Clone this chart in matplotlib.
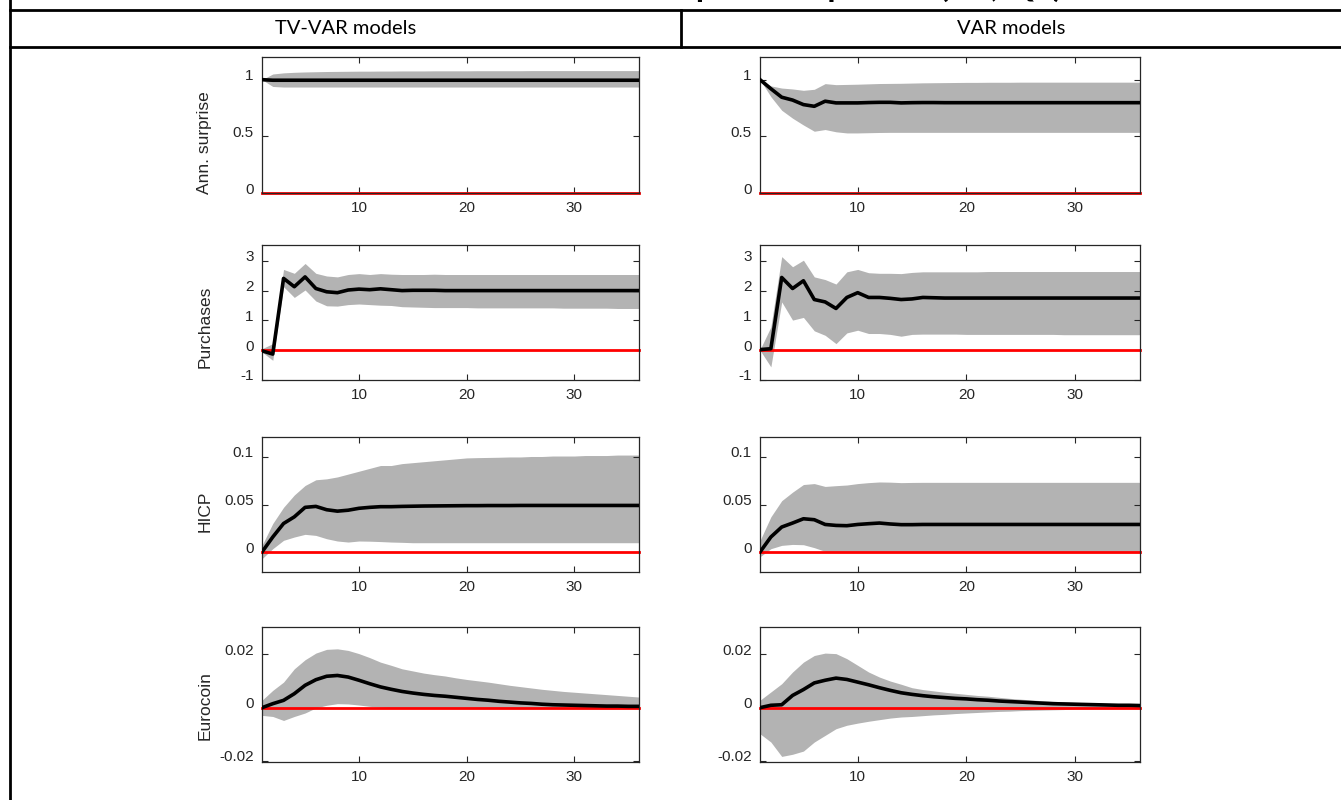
import matplotlib
matplotlib.use("Agg")
import matplotlib.pyplot as plt
import matplotlib.transforms as mtransforms
from matplotlib.lines import Line2D
import numpy as np

# ---------------- data ----------------
horizon = list(range(1, 37))

col_titles = ["TV-VAR models", "VAR models"]
var_names = ["Ann. surprise", "Purchases", "HICP", "Eurocoin"]

# Ann. surprise
tv_ann_med = [1.00, 0.995, 0.995, 0.995, 0.995, 0.995, 0.995, 0.995, 0.995, 0.995, 0.995, 0.995,
              0.995, 0.995, 0.995, 0.995, 0.995, 0.995, 0.995, 0.995, 0.995, 0.995, 0.995, 0.995,
              0.995, 0.995, 0.995, 0.995, 0.995, 0.995, 0.995, 0.995, 0.995, 0.995, 0.995, 0.995]
tv_ann_up = [1.00, 1.05, 1.06, 1.065, 1.068, 1.07, 1.072, 1.073, 1.074, 1.075, 1.075, 1.076,
             1.076, 1.077, 1.077, 1.077, 1.078, 1.078, 1.078, 1.078, 1.079, 1.079, 1.079, 1.079,
             1.079, 1.08, 1.08, 1.08, 1.08, 1.08, 1.08, 1.08, 1.08, 1.08, 1.08, 1.08]
tv_ann_lo = [1.00, 0.94, 0.935, 0.935, 0.935, 0.935, 0.935, 0.935, 0.935, 0.935, 0.935, 0.935,
             0.935, 0.935, 0.935, 0.935, 0.935, 0.935, 0.935, 0.935, 0.935, 0.935, 0.935, 0.935,
             0.935, 0.935, 0.935, 0.935, 0.935, 0.935, 0.935, 0.935, 0.935, 0.935, 0.935, 0.935]

var_ann_med = [1.00, 0.92, 0.845, 0.82, 0.78, 0.765, 0.81, 0.795, 0.795, 0.795, 0.798, 0.80,
               0.80, 0.795, 0.797, 0.798, 0.798, 0.797, 0.797, 0.797, 0.797, 0.797, 0.797, 0.797,
               0.797, 0.797, 0.797, 0.797, 0.797, 0.797, 0.797, 0.797, 0.797, 0.797, 0.797, 0.797]
var_ann_up = [1.00, 0.945, 0.926, 0.918, 0.906, 0.915, 0.965, 0.956, 0.958, 0.96, 0.963, 0.966,
              0.967, 0.968, 0.97, 0.972, 0.973, 0.974, 0.975, 0.976, 0.976, 0.977, 0.977, 0.977,
              0.978, 0.978, 0.978, 0.978, 0.978, 0.978, 0.978, 0.978, 0.978, 0.978, 0.978, 0.978]
var_ann_lo = [1.00, 0.85, 0.73, 0.66, 0.60, 0.545, 0.56, 0.54, 0.53, 0.53, 0.532, 0.534,
              0.535, 0.535, 0.535, 0.535, 0.535, 0.535, 0.535, 0.535, 0.535, 0.535, 0.535, 0.535,
              0.535, 0.535, 0.535, 0.535, 0.535, 0.535, 0.535, 0.535, 0.535, 0.535, 0.535, 0.535]

# Purchases
tv_pur_med = [-0.02, -0.13, 2.41, 2.13, 2.46, 2.07, 1.96, 1.93, 2.02, 2.05, 2.03, 2.06,
              2.03, 2.00, 2.01, 2.01, 2.01, 2.00, 2.00, 2.00, 2.00, 2.00, 2.00, 2.00,
              2.00, 2.00, 2.00, 2.00, 2.00, 2.00, 2.00, 2.00, 2.00, 2.00, 2.00, 2.00]
tv_pur_up = [0.05, 0.22, 2.71, 2.58, 2.91, 2.58, 2.49, 2.46, 2.54, 2.57, 2.54, 2.57,
             2.55, 2.54, 2.54, 2.54, 2.55, 2.54, 2.54, 2.54, 2.54, 2.54, 2.54, 2.54,
             2.54, 2.54, 2.54, 2.54, 2.54, 2.54, 2.54, 2.54, 2.54, 2.54, 2.54, 2.54]
tv_pur_lo = [-0.06, -0.34, 2.13, 1.77, 2.02, 1.65, 1.49, 1.48, 1.53, 1.55, 1.53, 1.51,
             1.50, 1.46, 1.45, 1.44, 1.43, 1.43, 1.43, 1.43, 1.42, 1.42, 1.42, 1.42,
             1.42, 1.42, 1.42, 1.42, 1.41, 1.41, 1.41, 1.41, 1.41, 1.40, 1.40, 1.40]

var_pur_med = [0.02, 0.05, 2.44, 2.07, 2.33, 1.70, 1.62, 1.40, 1.77, 1.93, 1.77, 1.77,
               1.74, 1.70, 1.72, 1.77, 1.76, 1.75, 1.75, 1.75, 1.75, 1.75, 1.75, 1.75,
               1.75, 1.75, 1.75, 1.75, 1.75, 1.75, 1.75, 1.75, 1.75, 1.75, 1.75, 1.75]
var_pur_up = [0.02, 0.78, 3.14, 2.80, 3.02, 2.46, 2.37, 2.22, 2.63, 2.71, 2.60, 2.58,
              2.58, 2.57, 2.61, 2.63, 2.63, 2.63, 2.63, 2.63, 2.63, 2.64, 2.64, 2.64,
              2.64, 2.64, 2.64, 2.64, 2.64, 2.64, 2.64, 2.64, 2.64, 2.64, 2.64, 2.64]
var_pur_lo = [0.00, -0.56, 1.62, 1.01, 1.10, 0.65, 0.50, 0.22, 0.58, 0.67, 0.56, 0.56,
              0.53, 0.47, 0.53, 0.54, 0.54, 0.54, 0.54, 0.53, 0.53, 0.53, 0.53, 0.53,
              0.53, 0.53, 0.53, 0.53, 0.52, 0.52, 0.52, 0.52, 0.52, 0.52, 0.52, 0.52]

# HICP
tv_hicp_med = [0.0, 0.0158, 0.030, 0.037, 0.047, 0.048, 0.0445, 0.043, 0.044, 0.046, 0.047, 0.0477,
               0.0477, 0.048, 0.0482, 0.0484, 0.0485, 0.0486, 0.0487, 0.0488, 0.0488, 0.0489, 0.0489, 0.0489,
               0.049, 0.049, 0.049, 0.049, 0.049, 0.049, 0.049, 0.049, 0.049, 0.049, 0.049, 0.049]
tv_hicp_up = [0.007, 0.030, 0.047, 0.060, 0.070, 0.076, 0.077, 0.079, 0.082, 0.085, 0.088, 0.091,
              0.091, 0.093, 0.094, 0.095, 0.096, 0.097, 0.098, 0.099, 0.0993, 0.0995, 0.0997, 0.100,
              0.100, 0.1005, 0.1005, 0.101, 0.101, 0.101, 0.1015, 0.1015, 0.1015, 0.102, 0.102, 0.102]
tv_hicp_lo = [-0.007, 0.0035, 0.0123, 0.0158, 0.0186, 0.0175, 0.014, 0.0116, 0.0105, 0.0116, 0.0114, 0.011,
              0.0105, 0.0102, 0.0098, 0.0098, 0.0098, 0.0098, 0.0098, 0.0098, 0.0098, 0.0098, 0.0098, 0.0098,
              0.0098, 0.0098, 0.0098, 0.0098, 0.0098, 0.0098, 0.0098, 0.0098, 0.0098, 0.0098, 0.0098, 0.0098]

var_hicp_med = [0.0, 0.0158, 0.0263, 0.0305, 0.035, 0.034, 0.029, 0.028, 0.0277, 0.029, 0.0298, 0.0305,
                0.0295, 0.0288, 0.0288, 0.029, 0.029, 0.029, 0.029, 0.029, 0.029, 0.029, 0.029, 0.029,
                0.029, 0.029, 0.029, 0.029, 0.029, 0.029, 0.029, 0.029, 0.029, 0.029, 0.029, 0.029]
var_hicp_up = [0.012, 0.037, 0.054, 0.063, 0.071, 0.072, 0.069, 0.0698, 0.0705, 0.072, 0.073, 0.0737,
               0.0735, 0.073, 0.0732, 0.0733, 0.0733, 0.0733, 0.0733, 0.0733, 0.0733, 0.0733, 0.0733, 0.0733,
               0.0733, 0.0733, 0.0733, 0.0733, 0.0733, 0.0733, 0.0733, 0.0733, 0.0733, 0.0733, 0.0733, 0.0733]
var_hicp_lo = [-0.005, 0.0035, 0.007, 0.008, 0.0077, 0.0046, 0.0007, -0.0002, -0.0003, -0.0003, -0.0003, -0.0003,
               -0.0003, -0.0003, -0.0003, -0.0003, -0.0003, -0.0003, -0.0003, -0.0003, -0.0003, -0.0003, -0.0003, -0.0003,
               -0.0003, -0.0003, -0.0003, -0.0003, -0.0003, -0.0003, -0.0003, -0.0003, -0.0003, -0.0003, -0.0003, -0.0003]

# Eurocoin
tv_euro_med = [0.0, 0.0015, 0.00275, 0.00525, 0.0084, 0.0105, 0.0118, 0.0121, 0.0115, 0.0103, 0.009, 0.0078,
               0.0069, 0.0061, 0.0055, 0.005, 0.0046, 0.0043, 0.0039, 0.0035, 0.0031, 0.0028, 0.0024, 0.0021,
               0.0018, 0.0016, 0.0013, 0.0011, 0.001, 0.0009, 0.0008, 0.0007, 0.0006, 0.0006, 0.0005, 0.0005]
tv_euro_up = [0.0028, 0.0065, 0.0096, 0.0146, 0.018, 0.0205, 0.0219, 0.0221, 0.0215, 0.0203, 0.0188, 0.0171,
              0.0159, 0.0146, 0.0138, 0.013, 0.0124, 0.0119, 0.0112, 0.0106, 0.0101, 0.0096, 0.009, 0.0084,
              0.0079, 0.0074, 0.0069, 0.0065, 0.0061, 0.0058, 0.0055, 0.0052, 0.0049, 0.0046, 0.0043, 0.004]
tv_euro_lo = [-0.0029, -0.0033, -0.0048, -0.0033, -0.002, -0.0001, 0.0009, 0.0015, 0.0014, 0.001, 0.0005, 0.0002,
              0.0, -0.0001, -0.0001, -0.0002, -0.0002, -0.0002, -0.0002, -0.0002, -0.0002, -0.0002, -0.0002, -0.0002,
              -0.0002, -0.0002, -0.0002, -0.0002, -0.0002, -0.0002, -0.0002, -0.0002, -0.0002, -0.0002, -0.0002, -0.0002]

var_euro_med = [0.0, 0.0009, 0.0011, 0.0046, 0.0068, 0.0093, 0.0103, 0.0111, 0.0106, 0.0096, 0.0086, 0.0075,
                0.0065, 0.0056, 0.005, 0.0045, 0.0041, 0.0038, 0.0035, 0.0033, 0.003, 0.0028, 0.0025, 0.0023,
                0.0021, 0.0019, 0.0017, 0.0015, 0.0014, 0.0013, 0.0012, 0.0011, 0.001, 0.0009, 0.0009, 0.0008]
var_euro_up = [0.0028, 0.0059, 0.009, 0.0134, 0.0171, 0.0196, 0.0205, 0.0203, 0.0184, 0.0159, 0.0134, 0.0115,
               0.01, 0.0088, 0.0075, 0.0068, 0.0063, 0.0058, 0.0054, 0.005, 0.0046, 0.0043, 0.0039, 0.0035,
               0.0032, 0.0029, 0.0026, 0.0024, 0.0022, 0.002, 0.0019, 0.0018, 0.0016, 0.0015, 0.0014, 0.0013]
var_euro_lo = [-0.0098, -0.0129, -0.0183, -0.0175, -0.0163, -0.0129, -0.0104, -0.0079, -0.0066, -0.0058, -0.0051, -0.0045,
               -0.0039, -0.0035, -0.0033, -0.003, -0.0027, -0.0025, -0.0022, -0.002, -0.0018, -0.0016, -0.0014, -0.0013,
               -0.0011, -0.001, -0.0009, -0.0008, -0.0007, -0.0005, -0.0005, -0.0004, -0.0004, -0.0003, -0.0003, -0.0003]

# axis settings per variable
y_limits = [(0.0, 1.2), (-1.0, 3.53), (-0.021, 0.121), (-0.0204, 0.0303)]
y_ticks = [[0, 0.5, 1], [-1, 0, 1, 2, 3], [0, 0.05, 0.1], [-0.02, 0, 0.02]]
y_ticklabels = [["0", "0.5", "1"], ["-1", "0", "1", "2", "3"], ["0", "0.05", "0.1"], ["-0.02", "0", "0.02"]]
x_ticks = [10, 20, 30]
x_ticklabels = ["10", "20", "30"]

panels = [
    [(tv_ann_med, tv_ann_lo, tv_ann_up), (var_ann_med, var_ann_lo, var_ann_up)],
    [(tv_pur_med, tv_pur_lo, tv_pur_up), (var_pur_med, var_pur_lo, var_pur_up)],
    [(tv_hicp_med, tv_hicp_lo, tv_hicp_up), (var_hicp_med, var_hicp_lo, var_hicp_up)],
    [(tv_euro_med, tv_euro_lo, tv_euro_up), (var_euro_med, var_euro_lo, var_euro_up)],
]

# ---------------- layout (pixels) ----------------
W, H = 1341, 800
col_x = [(262, 639), (760, 1140)]
row_y = [(57, 193), (245, 380), (437, 572), (627, 762)]
ylabel_pos = [(205, 143), (205, 327), (205, 511), (205, 706)]

fig = plt.figure(figsize=(W / 100, H / 100), dpi=100)
fig.patch.set_facecolor("white")

# overlay for table lines & headers
ov = fig.add_axes([0, 0, 1, 1])
ov.set_xlim(0, W)
ov.set_ylim(H, 0)
ov.axis("off")
lw_tab = 2.0
ov.add_line(Line2D([10, 10], [0, H], color="black", lw=lw_tab))
ov.add_line(Line2D([10, W], [10, 10], color="black", lw=lw_tab))
ov.add_line(Line2D([10, W], [47, 47], color="black", lw=lw_tab))
ov.add_line(Line2D([681, 681], [10, 47], color="black", lw=lw_tab))
ov.text(346, 29, col_titles[0], ha="center", va="center", fontsize=14.5, family="Lato", color="black")
ov.text(1011, 29, col_titles[1], ha="center", va="center", fontsize=14.5, family="Lato", color="black")
# title row of the table, mostly cut off at the top edge as in the source
ov.text(1062, -3, "Impulse responses (EA, QE)", ha="right", va="baseline", fontsize=24,
        family="Lato", weight="bold", color="black")

gray = "#b3b3b3"
dark = "#262626"
label_offset = mtransforms.ScaledTranslation(0, 5 / 100, fig.dpi_scale_trans)

for r in range(4):
    for c in range(2):
        x0, x1 = col_x[c]
        y0, y1 = row_y[r]
        ax = fig.add_axes([x0 / W, 1 - y1 / H, (x1 - x0) / W, (y1 - y0) / H])
        med, lo, up = panels[r][c]
        ax.fill_between(horizon, lo, up, color=gray, lw=0, zorder=1)
        ax.plot([horizon[0], horizon[-1]], [0, 0], color="red", lw=2.0, zorder=2, clip_on=False)
        ax.plot(horizon, med, color="black", lw=2.6, zorder=3)
        ax.set_xlim(1, 36)
        ax.set_ylim(*y_limits[r])
        ax.set_xticks(x_ticks)
        ax.set_xticklabels(x_ticklabels)
        ax.set_yticks(y_ticks[r])
        ax.set_yticklabels(y_ticklabels[r])
        ax.tick_params(direction="in", length=4, width=0.8, top=True, right=True,
                       colors=dark, labelsize=11, pad=6)
        for lab in ax.get_xticklabels() + ax.get_yticklabels():
            lab.set_family("Liberation Sans")
        for lab in ax.get_yticklabels():
            lab.set_transform(lab.get_transform() + label_offset)
        for sp in ax.spines.values():
            sp.set_color(dark)
            sp.set_linewidth(0.9)
        ax.set_facecolor("white")
        if c == 0:
            lx, ly = ylabel_pos[r]
            ov.text(lx, ly, var_names[r], rotation=90, ha="center", va="center",
                    fontsize=12.5, family="Liberation Sans", color=dark)

fig.savefig("out.png", dpi=100, facecolor="white")
